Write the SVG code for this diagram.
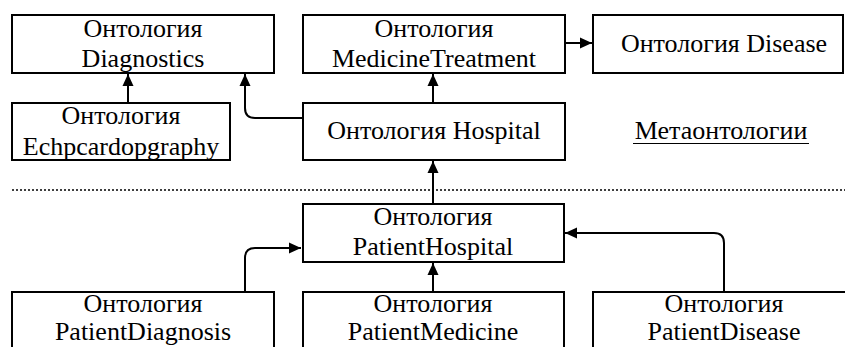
<svg xmlns="http://www.w3.org/2000/svg" width="845" height="347" viewBox="0 0 845 347">
<defs>
<style>
.box{fill:#fff;stroke:#000;stroke-width:2}
.t{font-family:"Liberation Serif","Times New Roman",serif;font-size:26px;fill:#000;text-anchor:middle}
.c{fill:none;stroke:#000;stroke-width:2}
</style>
<marker id="ah" viewBox="0 0 12 12" refX="12" refY="6" markerWidth="12" markerHeight="12" markerUnits="userSpaceOnUse" orient="auto">
<path d="M0,0.5 L12,6 L0,11.5 z" fill="#000"/>
</marker>
</defs>
<rect width="845" height="347" fill="#fff"/>
<line x1="12" y1="190" x2="845" y2="190" stroke="#000" stroke-width="1.5" stroke-dasharray="2,2"/>
<g id="connectors">
<path class="c" d="M128,103 V74" marker-end="url(#ah)"/>
<path class="c" d="M303,118 H255 Q245,118 245,108 V74" marker-end="url(#ah)"/>
<path class="c" d="M433,103 V74" marker-end="url(#ah)"/>
<path class="c" d="M565,43 H592" marker-end="url(#ah)"/>
<path class="c" d="M433,204 V161" marker-end="url(#ah)"/>
<path class="c" d="M245,292 V258 Q245,248 255,248 H301" marker-end="url(#ah)"/>
<path class="c" d="M433,292 V263" marker-end="url(#ah)"/>
<path class="c" d="M724,292 V243 Q724,233 714,233 H565" marker-end="url(#ah)"/>
</g>
<g id="diagnostics"><rect class="box" x="12" y="15" width="262" height="58"/><text class="t" x="143" y="37">Онтология</text><text class="t" x="143" y="67">Diagnostics</text></g>
<g id="echo"><rect class="box" x="12" y="103" width="218" height="57"/><text class="t" x="121" y="124">Онтология</text><text class="t" x="121" y="155">Echpcardopgraphy</text></g>
<g id="medicine"><rect class="box" x="303" y="15" width="262" height="58"/><text class="t" x="434" y="37">Онтология</text><text class="t" x="434" y="67">MedicineTreatment</text></g>
<g id="disease"><rect class="box" x="593" y="15" width="250" height="58"/><text class="t" x="724" y="52">Онтология Disease</text></g>
<g id="hospital"><rect class="box" x="303" y="103" width="262" height="57"/><text class="t" x="434" y="139">Онтология Hospital</text></g>
<g id="meta"><text class="t" x="721" y="139">Метаонтологии</text><line x1="633" y1="143.5" x2="809" y2="143.5" stroke="#000" stroke-width="1.2"/></g>
<g id="patientHospital"><rect class="box" x="303" y="204" width="261" height="58"/><text class="t" x="433" y="225">Онтология</text><text class="t" x="433" y="255">PatientHospital</text></g>
<g id="patientDiagnosis"><rect class="box" x="12" y="292" width="262" height="60"/><text class="t" x="143" y="312">Онтология</text><text class="t" x="143" y="340">PatientDiagnosis</text></g>
<g id="patientMedicine"><rect class="box" x="303" y="292" width="261" height="60"/><text class="t" x="433" y="312">Онтология</text><text class="t" x="433" y="340">PatientMedicine</text></g>
<g id="patientDisease"><rect class="box" x="593" y="292" width="260" height="60"/><text class="t" x="724" y="312">Онтология</text><text class="t" x="724" y="340">PatientDisease</text></g>
</svg>
